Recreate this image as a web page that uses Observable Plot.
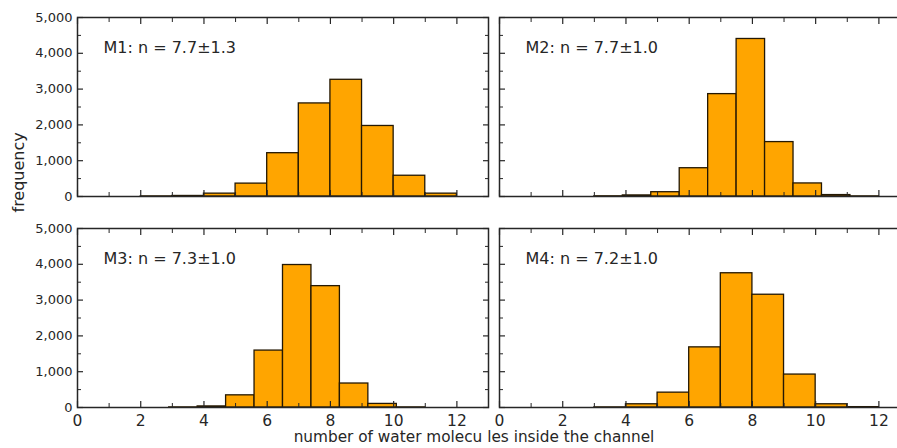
<!DOCTYPE html>
<html>
<head>
<meta charset="utf-8">
<script src="https://cdn.jsdelivr.net/npm/d3@7"></script>
<script src="https://cdn.jsdelivr.net/npm/@observablehq/plot@0.6"></script>
<style>
  html, body { margin: 0; padding: 0; background: #fff; overflow: hidden; }
  #chart { width: 897px; height: 448px; overflow: hidden; }
</style>
</head>
<body>
<div id="chart"></div>
<script>
const panels = ["M1", "M2", "M3", "M4"];
const panelLabels = ["M1: n = 7.7±1.3", "M2: n = 7.7±1.0", "M3: n = 7.3±1.0", "M4: n = 7.2±1.0"];

const edgesM1 = [2, 3, 4, 5, 6, 7, 8, 9, 10, 11, 12];
const countsM1 = [3, 15, 80, 360, 1210, 2600, 3260, 1970, 580, 80];
const edgesM2 = [3, 3.9, 4.8, 5.7, 6.6, 7.5, 8.4, 9.3, 10.2, 11.1, 12];
const countsM2 = [5, 30, 120, 790, 2860, 4400, 1520, 365, 40, 3];
const edgesM3 = [2, 2.9, 3.8, 4.7, 5.6, 6.5, 7.4, 8.3, 9.2, 10.1, 11];
const countsM3 = [0, 3, 30, 340, 1590, 3980, 3390, 670, 100, 3];
const edgesM4 = [2, 3, 4, 5, 6, 7, 8, 9, 10, 11, 12];
const countsM4 = [0, 3, 90, 415, 1680, 3750, 3150, 920, 90, 10];

const xMajorTicks = [0, 2, 4, 6, 8, 10, 12];
const xMinorTicks = [1, 3, 5, 7, 9, 11, 13];
const yMajorTicks = [0, 1000, 2000, 3000, 4000, 5000];
const yMinorTicks = [500, 1500, 2500, 3500, 4500];

const xLabel = "number of water molecu les inside the channel";
const yLabel = "frequency";

const allEdges = [edgesM1, edgesM2, edgesM3, edgesM4];
const allCounts = [countsM1, countsM2, countsM3, countsM4];

const rows = [];
panels.forEach((p, i) => {
  const e = allEdges[i], c = allCounts[i];
  c.forEach((v, j) => rows.push({panel: p, col: i % 2, row: Math.floor(i / 2), x1: e[j], x2: e[j + 1], count: v}));
});
const labelRows = panels.map((p, i) => ({panel: p, col: i % 2, row: Math.floor(i / 2), label: panelLabels[i]}));

const ink = "#262626";
const noText = () => "";

const chart = Plot.plot({
  width: 910,
  height: 448,
  marginLeft: 77,
  marginRight: 0,
  marginTop: 17,
  marginBottom: 41,
  style: {fontFamily: "DejaVu Sans", maxWidth: "none", background: "#fff", color: ink},
  x: {domain: [0, 13]},
  y: {domain: [0, 5000]},
  fx: {domain: [0, 1], paddingInner: 0.0261, paddingOuter: 0, axis: null},
  fy: {domain: [0, 1], paddingInner: 0.1517, paddingOuter: 0, axis: null},
  marks: [
    Plot.rectY(rows, {x1: "x1", x2: "x2", y: "count", fx: "col", fy: "row", fill: "#FFA500", stroke: "#241803", strokeWidth: 1.3}),
    Plot.frame({stroke: ink, strokeWidth: 1.5}),
    // x tick labels (bottom row only)
    Plot.axisX({ticks: xMajorTicks, tickSize: 0, tickPadding: 7, fontSize: 15.5, label: null, anchor: "bottom"}),
    // inward x ticks on all panels
    Plot.axisX({ticks: xMajorTicks, tickSize: -6, tickFormat: noText, label: null, anchor: "bottom", facetAnchor: null, stroke: ink, strokeWidth: 1.2}),
    Plot.axisX({ticks: xMinorTicks, tickSize: -4, tickFormat: noText, label: null, anchor: "bottom", facetAnchor: null, stroke: ink}),
    Plot.axisX({ticks: xMajorTicks, tickSize: -6, tickFormat: noText, label: null, anchor: "top", facetAnchor: null, stroke: ink, strokeWidth: 1.2}),
    Plot.axisX({ticks: xMinorTicks, tickSize: -4, tickFormat: noText, label: null, anchor: "top", facetAnchor: null, stroke: ink}),
    // y tick labels (left column only)
    Plot.axisY({ticks: yMajorTicks, tickSize: 0, tickPadding: 5, fontSize: 13, tickFormat: d3.format(","), label: null, anchor: "left"}),
    // inward y ticks on all panels
    Plot.axisY({ticks: yMajorTicks, tickSize: -6, tickFormat: noText, label: null, anchor: "left", facetAnchor: null, stroke: ink, strokeWidth: 1.2}),
    Plot.axisY({ticks: yMinorTicks, tickSize: -4, tickFormat: noText, label: null, anchor: "left", facetAnchor: null, stroke: ink}),
    Plot.axisY({ticks: yMajorTicks, tickSize: -6, tickFormat: noText, label: null, anchor: "right", facetAnchor: null, stroke: ink, strokeWidth: 1.2}),
    Plot.axisY({ticks: yMinorTicks, tickSize: -4, tickFormat: noText, label: null, anchor: "right", facetAnchor: null, stroke: ink}),
    // panel annotations
    Plot.text(labelRows, {fx: "col", fy: "row", text: "label", frameAnchor: "top-left", dx: 26, dy: 24, textAnchor: "start", fontSize: 16, fill: ink}),
    // axis titles
    Plot.text([yLabel], {text: d => d, frameAnchor: "left", facet: "super", dx: -59, rotate: -90, fontSize: 16, fill: ink}),
    Plot.text([xLabel], {text: d => d, frameAnchor: "bottom", facet: "super", dx: -20, dy: 34, fontSize: 15.3, fill: ink})
  ]
});
document.getElementById("chart").appendChild(chart);
</script>
</body>
</html>
